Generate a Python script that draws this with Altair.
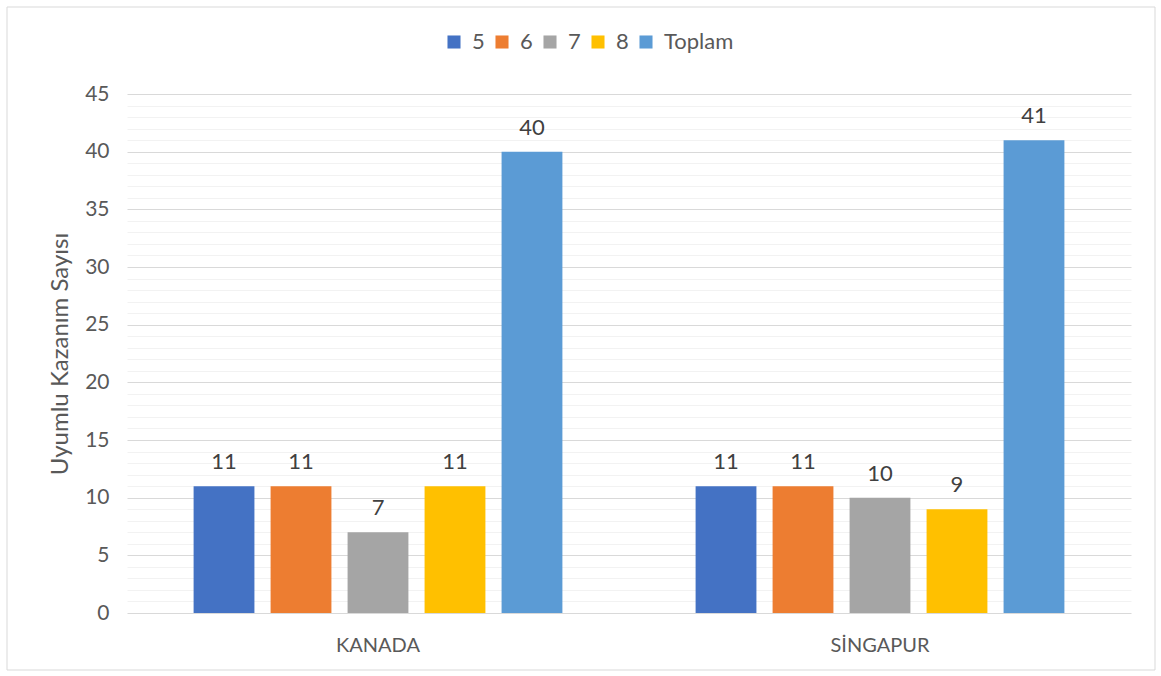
import altair as alt
import pandas as pd

countries = ["KANADA", "SİNGAPUR"]
series = ["5", "6", "7", "8", "Toplam"]
kanada = [11, 11, 7, 11, 40]
singapur = [11, 11, 10, 9, 41]
colors = ["#4472C4", "#ED7D31", "#A5A5A5", "#FFC000", "#5B9BD5"]

rows = []
for c, vals in zip(countries, [kanada, singapur]):
    for s, v in zip(series, vals):
        rows.append({"Ülke": c, "Sınıf": s, "Değer": v})
df = pd.DataFrame(rows)

FONT = "Lato"

x = alt.X("Ülke:N", sort=countries, title=None,
          scale=alt.Scale(paddingInner=0, paddingOuter=0),
          axis=alt.Axis(labelAngle=0, labelFontSize=20, labelColor="#595959",
                        labelPadding=22, ticks=False, domain=False, grid=False,
                        labelFont=FONT))
xo = alt.XOffset("Sınıf:N", sort=series,
                 scale=alt.Scale(paddingInner=0.21, paddingOuter=0.865))
y = alt.Y("Değer:Q", title="Uyumlu Kazanım Sayısı",
          scale=alt.Scale(domain=[0, 45], nice=False),
          axis=alt.Axis(values=list(range(0, 46)),
                        labelExpr="datum.value % 5 === 0 ? datum.label : ''",
                        gridColor=alt.condition("datum.value % 5 === 0",
                                                alt.value("#D9D9D9"), alt.value("#F2F2F2")),
                        gridWidth=1, ticks=False, domain=False,
                        labelFontSize=21, labelColor="#595959", labelPadding=18,
                        labelFont=FONT, titleFont=FONT, titleFontSize=24,
                        titleFontWeight="normal", titleColor="#595959",
                        titlePadding=12))

color = alt.Color("Sınıf:N", sort=series,
                  scale=alt.Scale(domain=series, range=colors),
                  legend=alt.Legend(title=None, orient="none", direction="horizontal",
                                    legendX=316, legendY=-63, symbolType="square",
                                    symbolSize=170, symbolStrokeWidth=0,
                                    labelFontSize=22, labelColor="#595959",
                                    labelFont=FONT, columnPadding=6, labelOffset=7))

bars = alt.Chart(df).mark_bar().encode(x=x, xOffset=xo, y=y, color=color)

labels = alt.Chart(df).mark_text(baseline="alphabetic", dy=-17, fontSize=22,
                                 color="#404040", font=FONT).encode(
    x=x, xOffset=xo, y=y, text="Değer:Q")

frame = alt.Chart(pd.DataFrame({"a": [0]})).mark_rect(
    fill=None, stroke="#D9D9D9", strokeWidth=1).encode(
    x=alt.value(-120), x2=alt.value(1028), y=alt.value(-87), y2=alt.value(576))

chart = alt.layer(bars, labels, frame).properties(
    width=1004, height=519,
    autosize=alt.AutoSizeParams(type="none"),
    padding={"left": 127, "top": 94, "right": 30, "bottom": 63},
    background="white",
).configure_view(stroke=None)

chart.save("out.html", embed_options={"renderer": "svg", "actions": False})
